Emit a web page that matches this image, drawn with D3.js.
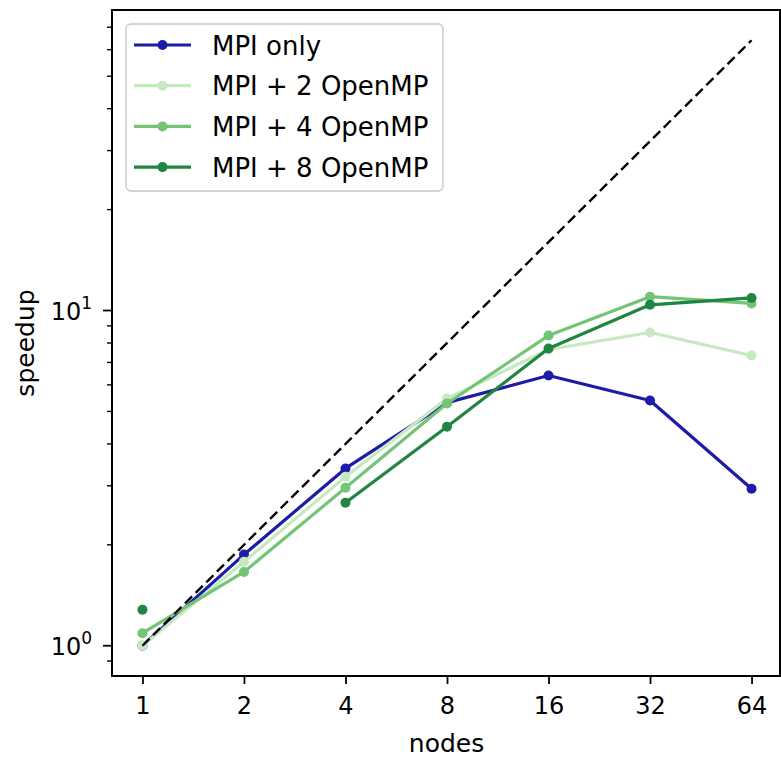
<!DOCTYPE html>
<html>
<head>
<meta charset="utf-8">
<script src="https://cdn.jsdelivr.net/npm/d3@7"></script>
<style>
  html, body { margin: 0; padding: 0; background: #fff; }
  svg { display: block; font-family: "DejaVu Sans", sans-serif; }
</style>
</head>
<body>
<svg id="chart" width="781" height="757"></svg>
<script>
// ---- data ----
const nodes = [1, 2, 4, 8, 16, 32, 64];
const mpiOnly   = [1.00, 1.87, 3.38, 5.31, 6.40, 5.39, 2.94];
const mpi2omp   = [1.00, 1.78, 3.19, 5.46, 7.65, 8.60, 7.34];
const mpi4omp   = [1.09, 1.66, 2.96, 5.28, 8.42, 11.0, 10.5];
const mpi8omp   = [1.28, null, 2.67, 4.50, 7.70, 10.4, 10.9];
const ideal     = [1, 64];
const seriesNames  = ["MPI only", "MPI + 2 OpenMP", "MPI + 4 OpenMP", "MPI + 8 OpenMP"];
const seriesColors = ["#1c1ca8", "#c7e9c0", "#74c476", "#1f8540"];
const xTickLabels = ["1", "2", "4", "8", "16", "32", "64"];

const seriesValues = [mpiOnly, mpi2omp, mpi4omp, mpi8omp];

// ---- layout ----
const pL = 112, pR = 781, pT = 10, pB = 676;

const svg = d3.select("#chart");

// matplotlib-like 5% margins in log space
const lx0 = Math.log2(1), lx1 = Math.log2(64), mx = (lx1 - lx0) * 0.05;
const x = d3.scaleLog().base(2).domain([2 ** (lx0 - mx), 2 ** (lx1 + mx)]).range([pL, pR + 1]);
const ly0 = 0, ly1 = Math.log10(64), my = (ly1 - ly0) * 0.05;
const y = d3.scaleLog().base(10).domain([10 ** (ly0 - my), 10 ** (ly1 + my)]).range([pB, pT]);

// clip
svg.append("defs").append("clipPath").attr("id", "clip")
  .append("rect").attr("x", pL).attr("y", pT).attr("width", pR - pL).attr("height", pB - pT);

const plot = svg.append("g").attr("clip-path", "url(#clip)");

// series
seriesValues.forEach((vals, i) => {
  const pts = nodes.map((n, j) => ({ n, v: vals[j] }));
  const g = plot.append("g");
  g.append("path")
    .datum(pts)
    .attr("d", d3.line().defined(d => d.v != null).x(d => x(d.n)).y(d => y(d.v)))
    .attr("fill", "none").attr("stroke", seriesColors[i]).attr("stroke-width", 3.2)
    .attr("stroke-linejoin", "round");
  g.selectAll("circle").data(pts.filter(d => d.v != null)).enter().append("circle")
    .attr("cx", d => x(d.n)).attr("cy", d => y(d.v)).attr("r", 5)
    .attr("fill", seriesColors[i]);
});

// ideal dashed line (drawn above series)
plot.append("path")
  .datum(ideal)
  .attr("d", d3.line().x(d => x(d)).y(d => y(d)))
  .attr("fill", "none").attr("stroke", "#000").attr("stroke-width", 2.4)
  .attr("stroke-dasharray", "10,5");

// x axis
const xAxis = d3.axisBottom(x).tickValues(nodes).tickFormat((d, i) => xTickLabels[i])
  .tickSize(8).tickPadding(13);
const gx = svg.append("g").attr("transform", `translate(0,${pB})`).call(xAxis);
gx.select(".domain").remove();
gx.selectAll(".tick line").attr("stroke", "#000").attr("stroke-width", 1.8);
gx.selectAll(".tick text").attr("font-size", 24).attr("fill", "#000")
  .attr("font-family", "DejaVu Sans, sans-serif");

// y ticks
const yMajor = [1, 10];
const yMinor = [];
[0.1, 1, 10].forEach(dec => { for (let k = 2; k <= 9; k++) yMinor.push(dec * k); });
const yDom = y.domain();
const yMinorIn = yMinor.filter(v => v >= yDom[0] && v <= yDom[1]);

const gy = svg.append("g");
gy.selectAll("line.minor").data(yMinorIn).enter().append("line")
  .attr("x1", pL - 5).attr("x2", pL).attr("y1", d => y(d)).attr("y2", d => y(d))
  .attr("stroke", "#000").attr("stroke-width", 1.4);
gy.selectAll("line.major").data(yMajor).enter().append("line")
  .attr("x1", pL - 9).attr("x2", pL).attr("y1", d => y(d)).attr("y2", d => y(d))
  .attr("stroke", "#000").attr("stroke-width", 1.8);
const yl = gy.selectAll("text.ylab").data(yMajor).enter().append("text")
  .attr("x", pL - 20).attr("y", d => y(d) + 9)
  .attr("text-anchor", "end").attr("font-size", 24).attr("fill", "#000");
yl.append("tspan").text("10");
yl.append("tspan").attr("dy", -11).attr("font-size", 17).text(d => Math.round(Math.log10(d)));

// spines
svg.append("rect").attr("x", pL).attr("y", pT).attr("width", pR - 1 - pL).attr("height", pB - pT)
  .attr("fill", "none").attr("stroke", "#000").attr("stroke-width", 2);

// axis labels
svg.append("text").attr("x", (pL + pR) / 2).attr("y", 752).attr("text-anchor", "middle")
  .attr("font-size", 25).attr("fill", "#000").text("nodes");
svg.append("text").attr("transform", `translate(34,${(pT + pB) / 2}) rotate(-90)`)
  .attr("text-anchor", "middle").attr("font-size", 25).attr("fill", "#000").text("speedup");

// legend
const lg = svg.append("g");
lg.append("rect").attr("x", 126).attr("y", 24).attr("width", 317).attr("height", 167)
  .attr("rx", 5).attr("fill", "#fff").attr("fill-opacity", 0.85)
  .attr("stroke", "#d3d3d3").attr("stroke-width", 1.8);
seriesNames.forEach((name, i) => {
  const cy = 45 + i * 40.7;
  lg.append("line").attr("x1", 134).attr("x2", 191).attr("y1", cy).attr("y2", cy)
    .attr("stroke", seriesColors[i]).attr("stroke-width", 3.2);
  lg.append("circle").attr("cx", 162.5).attr("cy", cy).attr("r", 5).attr("fill", seriesColors[i]);
  lg.append("text").attr("x", 212).attr("y", cy + 9.5).attr("font-size", 26).attr("fill", "#000").text(name);
});
</script>
</body>
</html>
